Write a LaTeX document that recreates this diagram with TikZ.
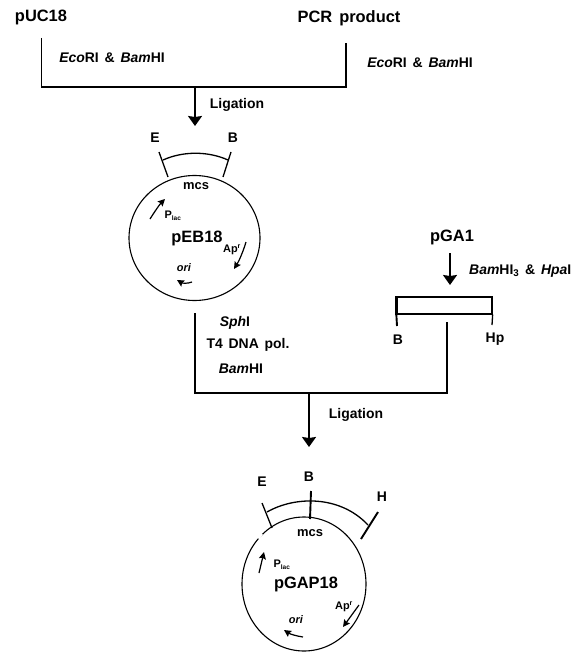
\documentclass[tikz,border=0pt]{standalone}
\usepackage{fontspec}
\setmainfont{Liberation Sans}
\usetikzlibrary{arrows.meta,shapes.geometric}
\tikzset{
  x=1bp,y=-1bp,
  big/.style={inner sep=0pt,font=\fontsize{16.5}{18}\selectfont\bfseries},
  med/.style={inner sep=0pt,font=\fontsize{14}{15}\selectfont\bfseries},
  sml/.style={inner sep=0pt,font=\fontsize{13}{14}\selectfont\bfseries},
  tiny/.style={inner sep=0pt,font=\fontsize{11}{12}\selectfont\bfseries},
  wire/.style={line width=1.3bp,black},
  thin wire/.style={line width=1.1bp,black},
  thick wire/.style={line width=1.9bp,black},
  main/.style={line width=1.7bp,black,-{Stealth[length=10bp,width=14bp,inset=1bp]}},
  gene/.style={line width=1.2bp,-{Stealth[length=7bp,width=7bp,inset=1bp]}},
  plasmid/.style={draw,ellipse,line width=1.1bp,inner sep=0pt},
}
\newcommand{\wsp}{\hspace{0.42em}}
\begin{document}
\begin{tikzpicture}
\useasboundingbox (0,0) rectangle (582,652);
% top
\node[big] (puc) at (41,17) {pUC18};
\node[big] (pcr) at (349,18) {PCR\hspace{0.15em} product};
\coordinate (pucEnd) at (41.5,38);
\coordinate (pcrEnd) at (346,43);
\coordinate (lb) at (41.5,87);
\coordinate (rb) at (346,87);
\coordinate (j1) at (195,87);
\draw[wire] (pucEnd) -- (lb) -- (rb) -- (pcrEnd);
\node[med] (e1) at (112,58) {\textit{Eco}RI\wsp\&\wsp\textit{Bam}HI};
\node[med] (e2) at (420,63) {\textit{Eco}RI\wsp\&\wsp\textit{Bam}HI};
\node[med] (lig1) at (237,105) {Ligation};
\coordinate (t1) at (195,126);
\draw[main] (j1) -- (t1);
% pEB18
\node[plasmid,minimum width=131bp,minimum height=125bp] (p1) at (194.5,238) {};
\node[med] (E1) at (155,138) {E};
\node[med] (B1) at (233,138) {B};
\coordinate (E1a) at (159,152);
\coordinate (E1b) at (168,177);
\coordinate (B1a) at (231,152);
\coordinate (B1b) at (223,177);
\draw[wire] (E1a) -- (E1b);
\draw[wire] (B1a) -- (B1b);
\coordinate (mc1a) at (163,160);
\coordinate (mc1b) at (228,160);
\draw[wire] (mc1a) .. controls (183,151) and (208,151) .. (mc1b);
\node[sml] (mcs1) at (196,186) {mcs};
\coordinate (pl1a) at (150,219);
\coordinate (pl1b) at (165,199);
\draw[gene] (pl1a) .. controls (155,211) and (160,204) .. (pl1b);
\node[tiny] (plac1) at (173,216) {P\textsubscript{\fontsize{6.5}{7}\selectfont lac}};
\node[big] (eb) at (197,238) {pEB18};
\node[tiny] (ap1) at (232,250) {Ap\textsuperscript{\fontsize{7}{7}\selectfont r}};
\coordinate (ap1a) at (246,242);
\coordinate (ap1b) at (234,269);
\draw[gene] (ap1a) .. controls (243,252) and (239,261) .. (ap1b);
\node[tiny] (ori1) at (184,268) {\textit{ori}};
\coordinate (or1a) at (192,282);
\coordinate (or1b) at (177,280);
\draw[gene] (or1a) .. controls (187,284) and (182,283) .. (or1b);
% pGA1
\node[big] (ga) at (452,237) {pGA1};
\coordinate (ga1) at (450,253);
\coordinate (ga2) at (450,285);
\draw[main] (ga1) -- (ga2);
\node[med,anchor=west] (bh) at (469,271) {\textit{Bam}HI\textsubscript{3}\wsp\&\wsp\textit{Hpa}I};
\node[draw,line width=1.3bp,minimum width=95bp,minimum height=17bp,inner sep=0pt] (frag) at (444.5,305.5) {};
\coordinate (fb) at (397,326);
\coordinate (fh) at (492,325);
\draw[thick wire] (frag.south west) -- (fb);
\draw[wire] (frag.south east) -- (fh);
\draw[thick wire] (frag.north west) -- (frag.south west);
\node[med] (Bf) at (398,340) {B};
\node[med] (Hf) at (495,339) {Hp};
% second join
\coordinate (a2) at (195,313);
\coordinate (c2) at (195,393);
\coordinate (d2) at (447,393);
\coordinate (e2end) at (447,322);
\coordinate (j2) at (309,393);
\coordinate (t2) at (309,447);
\draw[wire] (a2) -- (c2) -- (d2) -- (e2end);
\draw[main] (j2) -- (t2);
\node[med] (sph) at (235,323) {\textit{Sph}I};
\node[med] (t4) at (248,345) {T4\wsp DNA\wsp pol.};
\node[med] (bam) at (241,369) {\textit{Bam}HI};
\node[med] (lig2) at (356,415) {Ligation};
% pGAP18
\node[plasmid,minimum width=124bp,minimum height=134bp] (p2) at (304,584) {};
\draw[white,line width=2.5bp] (258.5,538.5) -- (262,534);
\node[med] (E2) at (262,482) {E};
\node[med] (B2) at (309,477) {B};
\node[med] (H2) at (382,497) {H};
\coordinate (E2a) at (262,503);
\coordinate (E2b) at (272,528);
\coordinate (B2a) at (311,491);
\coordinate (B2b) at (310,519);
\coordinate (H2a) at (378,512);
\coordinate (H2b) at (361,539);
\draw[wire] (E2a) -- (E2b);
\draw[thick wire] (B2a) -- (B2b);
\draw[thick wire] (H2a) -- (H2b);
\coordinate (mc2a) at (267,512);
\coordinate (mc2b) at (368,525);
\draw[wire] (mc2a) .. controls (295,496) and (340,495) .. (mc2b);
\node[sml] (mcs2) at (310,533) {mcs};
\coordinate (pl2a) at (259,573);
\coordinate (pl2b) at (264,552);
\draw[gene] (pl2a) -- (pl2b);
\node[tiny] (plac2) at (282,565) {P\textsubscript{\fontsize{6.5}{7}\selectfont lac}};
\node[big] (gap) at (306,584) {pGAP18};
\node[tiny] (ap2) at (344,607) {Ap\textsuperscript{\fontsize{7}{7}\selectfont r}};
\coordinate (ap2a) at (359,605);
\coordinate (ap2b) at (343,627);
\draw[gene] (ap2a) -- (ap2b);
\node[tiny] (ori2) at (296,620) {\textit{ori}};
\coordinate (or2a) at (303,637);
\coordinate (or2b) at (284,630);
\draw[gene] (or2a) .. controls (296,636) and (290,634) .. (or2b);
\end{tikzpicture}
\end{document}
